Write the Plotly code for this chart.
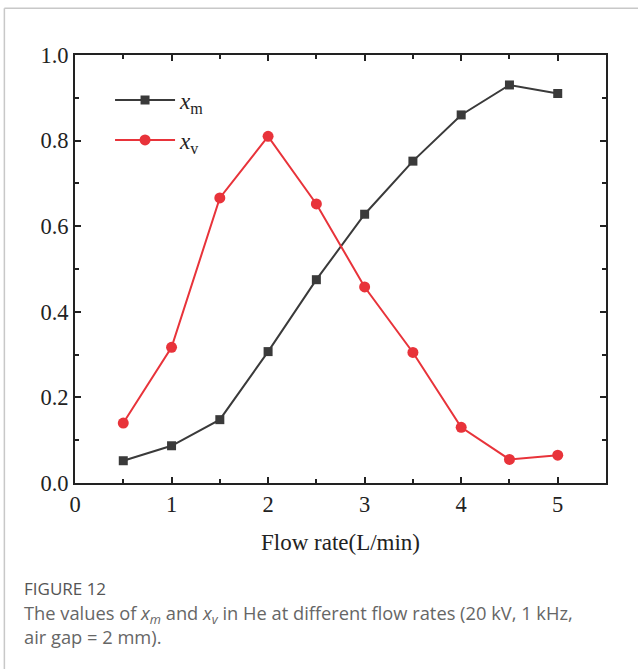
import plotly.graph_objects as go

flow_rate = [0.5, 1, 1.5, 2, 2.5, 3, 3.5, 4, 4.5, 5]
x_m = [0.052, 0.087, 0.148, 0.307, 0.475, 0.628, 0.752, 0.860, 0.930, 0.910]
x_v = [0.140, 0.317, 0.666, 0.810, 0.652, 0.458, 0.305, 0.130, 0.055, 0.065]
x_ticks = [0, 1, 2, 3, 4, 5]
y_ticks = [0.0, 0.2, 0.4, 0.6, 0.8, 1.0]
y_tick_text = ["0.0", "0.2", "0.4", "0.6", "0.8", "1.0"]

serif = "Liberation Serif"
sans = "Open Sans"

fig = go.Figure()
fig.add_trace(go.Scatter(
    x=flow_rate, y=x_m, mode="lines+markers",
    name="<i>x</i><sub>m</sub>", legendgroup="m",
    line=dict(color="#3a3a3a", width=2),
    marker=dict(symbol="square", size=9, color="#3a3a3a"),
))
fig.add_trace(go.Scatter(
    x=flow_rate, y=x_v, mode="lines+markers",
    name="<i>x</i><sub>v</sub>", legendgroup="v",
    line=dict(color="#e8333a", width=2),
    marker=dict(symbol="circle", size=11, color="#e8333a"),
))

tick_font = dict(family=serif, size=22.5, color="#222")

fig.update_layout(
    width=638, height=669,
    margin=dict(l=75, r=32, t=55, b=186),
    plot_bgcolor="white", paper_bgcolor="white",
    font=dict(family=serif, size=22, color="#222"),
    xaxis=dict(
        range=[0, 5.5], tickmode="array", tickvals=x_ticks, ticktext=[str(v) for v in x_ticks],
        showgrid=False, zeroline=False, showline=True, linecolor="#222", linewidth=2,
        mirror="allticks", ticks="inside", ticklen=6, tickwidth=1.5, tickcolor="#222",
        tickfont=tick_font,
        minor=dict(dtick=0.5, ticks="inside", ticklen=4, tickwidth=1.5, tickcolor="#222"),
        title=dict(text="Flow rate(L/min)", font=dict(family=serif, size=23, color="#222"), standoff=18),
    ),
    yaxis=dict(
        range=[0, 1.0], tickmode="array", tickvals=y_ticks, ticktext=y_tick_text,
        showgrid=False, zeroline=False, showline=True, linecolor="#222", linewidth=2,
        mirror="allticks", ticks="inside", ticklen=6, tickwidth=1.5, tickcolor="#222",
        tickfont=tick_font,
        minor=dict(dtick=0.1, ticks="inside", ticklen=4, tickwidth=1.5, tickcolor="#222"),
    ),
    showlegend=True,
    legend=dict(x=0.066, y=0.945, xanchor="left", yanchor="top",
                bgcolor="rgba(0,0,0,0)", font=dict(family=serif, size=23, color="#222"),
                itemwidth=60, tracegroupgap=7),
    annotations=[
        dict(xref="paper", yref="paper", x=-0.1, y=-0.215, xanchor="left", yanchor="top",
             text="FIGURE 12", showarrow=False, align="left",
             font=dict(family=sans, size=17, color="#555")),
        dict(xref="paper", yref="paper", x=-0.1, y=-0.268, xanchor="left", yanchor="top",
             text="The values of <i>x<sub>m</sub></i> and <i>x<sub>v</sub></i> in He at different flow rates (20 kV, 1 kHz,<br>air gap = 2 mm).",
             showarrow=False, align="left",
             font=dict(family=sans, size=18.3, color="#666")),
    ],
    shapes=[
        dict(type="line", xref="paper", yref="paper", x0=-0.133, x1=1.2, y0=1.109, y1=1.109,
             line=dict(color="#c8c8c8", width=1.5)),
        dict(type="line", xref="paper", yref="paper", x0=-0.133, x1=-0.133, y0=1.109, y1=-0.5,
             line=dict(color="#c8c8c8", width=1.5)),
    ],
)

fig.write_html("out.html")
